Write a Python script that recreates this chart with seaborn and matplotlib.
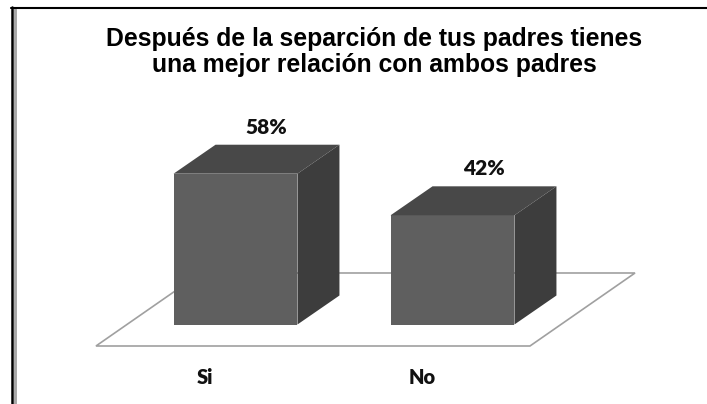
import matplotlib
matplotlib.use("Agg")
import matplotlib.pyplot as plt
from matplotlib.lines import Line2D
from matplotlib.patches import Polygon
import pandas as pd
import seaborn as sns

categories = ["Si", "No"]
values = [58, 42]
value_labels = ["58%", "42%"]
title = "Después de la separción de tus padres tienes\nuna mejor relación con ambos padres"

front_color = "#5f5f5f"
top_color = "#484848"
side_color = "#3d3d3d"

sns.set_theme(style="white")
plt.rcParams["font.family"] = ["Liberation Sans", "DejaVu Sans"]

df = pd.DataFrame({"cat": categories, "val": values})

fig = plt.figure(figsize=(7.07, 4.04), dpi=100)
ax = fig.add_axes([0, 0, 1, 1])

sns.barplot(data=df, x="cat", y="val", color=front_color, saturation=1,
            width=0.571, linewidth=0, ax=ax, zorder=3)

# pixel-matched limits (0 at y=324.5 px, 2.6 px per unit; 217 px per category)
ax.set_xlim(-1.0853, 2.1728)
ax.set_ylim(-30.577, 124.81)
ax.axis("off")

# 3D depth of bars in data units
dx, dy = 0.1935, 11.15

# floor
fx0, fx1, fy = -0.643, 1.357, -8.27
fdx, fdy = 0.484, 28.08
floor = Polygon([(fx0, fy), (fx1, fy), (fx1 + fdx, fy + fdy), (fx0 + fdx, fy + fdy)],
                closed=True, facecolor="white", edgecolor="#a0a0a0", linewidth=1.2, zorder=1)
ax.add_patch(floor)

lab_font = ["Lato", "DejaVu Sans"]
for i, p in enumerate(ax.patches[:len(values)]):
    x0 = p.get_x()
    w = p.get_width()
    h = p.get_height()
    top = Polygon([(x0, h), (x0 + w, h), (x0 + w + dx, h + dy), (x0 + dx, h + dy)],
                  closed=True, facecolor=top_color, edgecolor="none", zorder=3)
    side = Polygon([(x0 + w, 0), (x0 + w + dx, dy), (x0 + w + dx, h + dy), (x0 + w, h)],
                   closed=True, facecolor=side_color, edgecolor="none", zorder=3)
    ax.add_patch(top)
    ax.add_patch(side)
    ax.text(x0 + w / 2 + 0.143, h + dy + 6.8, value_labels[i], ha="center", va="center",
            fontsize=15, fontweight="heavy", family=lab_font, color="#111111")
    ax.text(x0 + w / 2 - 0.14, -20.2, categories[i], ha="center", va="center",
            fontsize=14.5, fontweight="heavy", family=lab_font, color="#111111")

fig.text(374 / 707, 1 - 52 / 404, title, ha="center", va="center", fontsize=17.8,
         fontweight="bold", linespacing=1.12, color="black")

# frame lines (left and top)
fig.add_artist(Line2D([12 / 707, 12 / 707], [0, 1 - 7 / 404], color="black", linewidth=1.8))
fig.add_artist(Line2D([14.5 / 707, 14.5 / 707], [0, 1 - 9 / 404], color="#a8a8a8", linewidth=2.1))
fig.add_artist(Line2D([11 / 707, 1], [1 - 8 / 404, 1 - 8 / 404], color="black", linewidth=1.5))

fig.savefig("out.png", dpi=100)
